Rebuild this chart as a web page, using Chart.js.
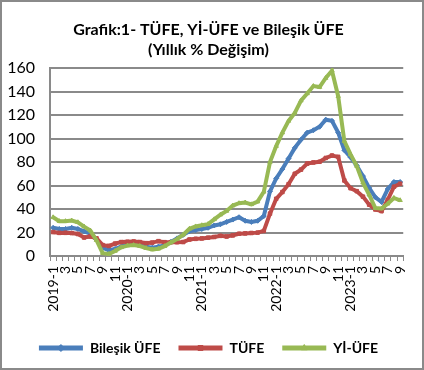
<!DOCTYPE html>
<html>
<head>
<meta charset="utf-8">
<script src="https://cdn.jsdelivr.net/npm/chart.js@4"></script>
<style>
    html, body { margin: 0; padding: 0; background: #fff; }
    #wrap { width: 424px; height: 370px; border: 2px solid #8a8a8a; box-sizing: border-box; background: #fff; }
    canvas { display: block; }
</style>
</head>
<body>
<div id="wrap"><canvas id="chart" width="420" height="366"></canvas></div>
<script>
// Monthly labels 2019-1 .. 2023-9
const years = [2019, 2020, 2021, 2022, 2023];
const months = [];
years.forEach(y => {
    const last = y === 2023 ? 9 : 12;
    for (let m = 1; m <= last; m++) months.push(y + '-' + m);
});

// Annual % change
const bilesikUfe = [
    24, 23, 23, 24, 23, 21, 19, 14, 7, 5, 6, 8,
    10, 10, 9, 8, 7, 8, 9, 12, 15, 18, 21, 22,
    23, 24, 26, 27, 29, 31, 33, 30, 29, 30, 34, 55,
    66, 74, 83, 92, 99, 105, 107, 110, 116, 115, 105, 90,
    84, 77, 68, 58, 50, 46, 57, 63, 63
];
const tufe = [
    20.35, 19.67, 19.71, 19.50, 18.71, 15.72, 16.65, 15.01, 9.26, 8.55, 10.56, 11.84,
    12.15, 12.37, 11.86, 10.94, 11.39, 12.62, 11.76, 11.77, 11.75, 11.89, 14.03, 14.60,
    14.97, 15.61, 16.19, 17.14, 16.59, 17.53, 18.95, 19.25, 19.58, 19.89, 21.31, 36.08,
    48.69, 54.44, 61.14, 69.97, 73.50, 78.62, 79.60, 80.21, 83.45, 85.51, 84.39, 64.27,
    57.68, 55.18, 50.51, 43.68, 39.59, 38.21, 47.83, 58.94, 61.53
];
const yiUfe = [
    32.93, 29.64, 29.64, 30.12, 28.71, 25.04, 21.66, 13.45, 2.45, 1.70, 4.26, 7.36,
    8.84, 9.26, 8.50, 6.71, 5.53, 6.17, 8.33, 11.53, 14.33, 18.20, 23.11, 25.15,
    26.16, 27.09, 31.20, 35.17, 38.33, 42.89, 44.92, 45.52, 43.96, 46.31, 54.62, 79.89,
    93.53, 105.01, 114.97, 121.82, 132.16, 138.31, 144.61, 143.75, 151.50, 157.69, 136.02, 97.72,
    86.46, 76.61, 62.43, 52.11, 40.76, 40.42, 44.50, 49.41, 47.44
];
const yTicks = [0, 20, 40, 60, 80, 100, 120, 140, 160];

const FONT = 'Lato, "Open Sans", sans-serif';

function series(label, data, color, style, order) {
    return {
        label, data, order,
        borderColor: color,
        backgroundColor: color,
        borderWidth: 4,
        pointStyle: style,
        pointRadius: 2.5,
        pointBorderWidth: 1,
        tension: 0
    };
}

// draw the marker in the middle of each legend line
const legendMarkers = {
    id: 'legendMarkers',
    afterDraw(chart) {
        const legend = chart.legend;
        if (!legend || !legend.legendHitBoxes) return;
        const ctx = chart.ctx;
        legend.legendHitBoxes.forEach((box, i) => {
            const ds = chart.data.datasets[legend.legendItems[i].datasetIndex];
            ctx.save();
            ctx.fillStyle = ds.borderColor;
            ctx.strokeStyle = ds.borderColor;
            ctx.lineWidth = 1;
            Chart.helpers.drawPoint(ctx, { pointStyle: ds.pointStyle, radius: 3.5, borderWidth: 1 },
                box.left + 22, box.top + box.height / 2);
            ctx.restore();
        });
    }
};

new Chart(document.getElementById('chart').getContext('2d'), {
    type: 'line',
    data: {
        labels: months,
        datasets: [
            series('Bileşik ÜFE', bilesikUfe, '#4a7ebb', 'rectRot', 3),
            series('TÜFE', tufe, '#be4b48', 'rect', 2),
            series('Yİ-ÜFE', yiUfe, '#98b954', 'triangle', 1)
        ]
    },
    options: {
        responsive: false,
        devicePixelRatio: 1,
        animation: false,
        layout: { padding: { left: 0, right: 7, top: 0, bottom: 3 } },
        scales: {
            x: {
                type: 'category',
                offset: true,
                grid: { drawOnChartArea: false, drawTicks: true, tickLength: 5, offset: true, color: '#8a8a8a', lineWidth: 1 },
                border: { color: '#8a8a8a', width: 2 },
                ticks: {
                    autoSkip: false,
                    maxRotation: 90,
                    minRotation: 90,
                    padding: 5,
                    color: '#000',
                    font: { family: FONT, size: 14 },
                    callback: function (value, index) {
                        if (index % 2 !== 0) return '';
                        const parts = months[index].split('-');
                        return parts[1] === '1' ? months[index] : parts[1];
                    }
                },
                afterFit: scale => { scale.height = 67; }
            },
            y: {
                min: 0,
                max: 160,
                afterBuildTicks: scale => { scale.ticks = yTicks.map(v => ({ value: v })); },
                grid: { drawTicks: false, color: '#8a8a8a', lineWidth: 2 },
                border: { color: '#8a8a8a', width: 2 },
                ticks: { padding: 15, color: '#000', font: { family: FONT, size: 16 } },
                afterFit: scale => { scale.width = 48; }
            }
        },
        plugins: {
            title: {
                display: true,
                text: ['Grafik:1- TÜFE, Yİ-ÜFE ve Bileşik ÜFE', '(Yıllık % Değişim)'],
                color: '#000',
                font: { family: FONT, size: 16, weight: 'bold', lineHeight: 1.25 },
                padding: { top: 18, bottom: 8 }
            },
            legend: {
                position: 'bottom',
                labels: {
                    color: '#000',
                    boxWidth: 44,
                    boxHeight: 5,
                    padding: 18,
                    font: { family: FONT, size: 14, weight: 'bold' },
                    sort: (a, b) => a.datasetIndex - b.datasetIndex,
                    generateLabels: chart => Chart.defaults.plugins.legend.labels.generateLabels(chart)
                        .map(l => Object.assign(l, { lineWidth: 0 }))
                }
            },
            tooltip: { enabled: false }
        }
    },
    plugins: [legendMarkers]
});
</script>
</body>
</html>
